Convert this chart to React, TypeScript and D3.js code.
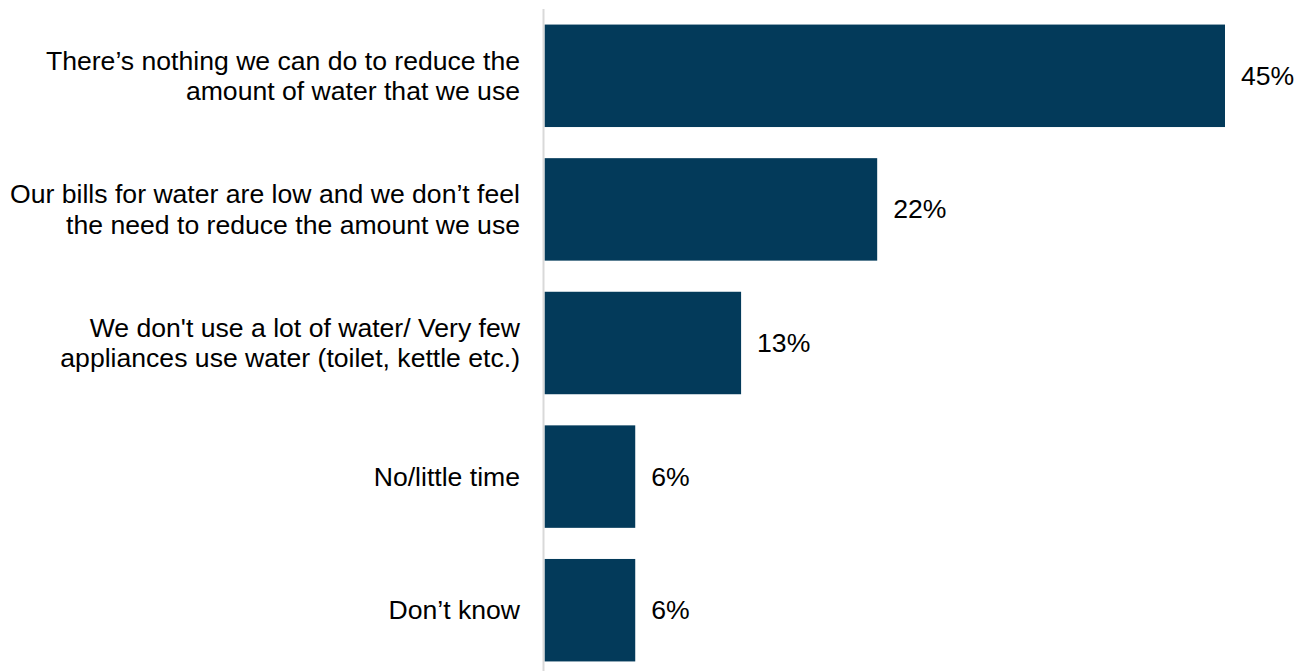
import React from "react";
import * as d3 from "d3";

const categories: string[][] = [
  ["There’s nothing we can do to reduce the", "amount of water that we use"],
  ["Our bills for water are low and we don’t feel", "the need to reduce the amount we use"],
  ["We don't use a lot of water/ Very few", "appliances use water (toilet, kettle etc.)"],
  ["No/little time"],
  ["Don’t know"],
];
const values: number[] = [45, 22, 13, 6, 6];
const valueLabels: string[] = ["45%", "22%", "13%", "6%", "6%"];

const W = 1296;
const H = 671;
const BAR_COLOR = "#033a5a";
const FONT = "Arial, 'Liberation Sans', sans-serif";

export default function App() {
  const idx = values.map((_, i) => String(i));
  const y = d3.scaleBand<string>().domain(idx).range([9, 677]).paddingInner(0.233).paddingOuter(0.1165);
  const x = d3.scaleLinear().domain([0, 45]).range([544.5, 1225]);
  const lineH = 30.5;
  const fs = 26.6;
  return (
    <svg width={W} height={H} style={{ position: "absolute", left: 0, top: 0, background: "#fff" }}>
      {values.map((v, i) => {
        const yy = y(String(i))!;
        const cy = yy + y.bandwidth() / 2;
        const lines = categories[i];
        return (
          <g key={i}>
            <rect x={x(0)} y={yy} width={x(v) - x(0)} height={y.bandwidth()} fill={BAR_COLOR} />
            <text x={x(v) + 16} y={cy} dominantBaseline="central" fontFamily={FONT} fontSize={fs} fill="#000">
              {valueLabels[i]}
            </text>
            <text x={520} textAnchor="end" fontFamily={FONT} fontSize={fs} fill="#000">
              {lines.map((l, j) => (
                <tspan key={j} x={520} y={cy + (j - (lines.length - 1) / 2) * lineH} dominantBaseline="central">
                  {l}
                </tspan>
              ))}
            </text>
          </g>
        );
      })}
      <line x1={543.5} x2={543.5} y1={9} y2={H} stroke="#d9d9d9" strokeWidth={2} />
    </svg>
  );
}
